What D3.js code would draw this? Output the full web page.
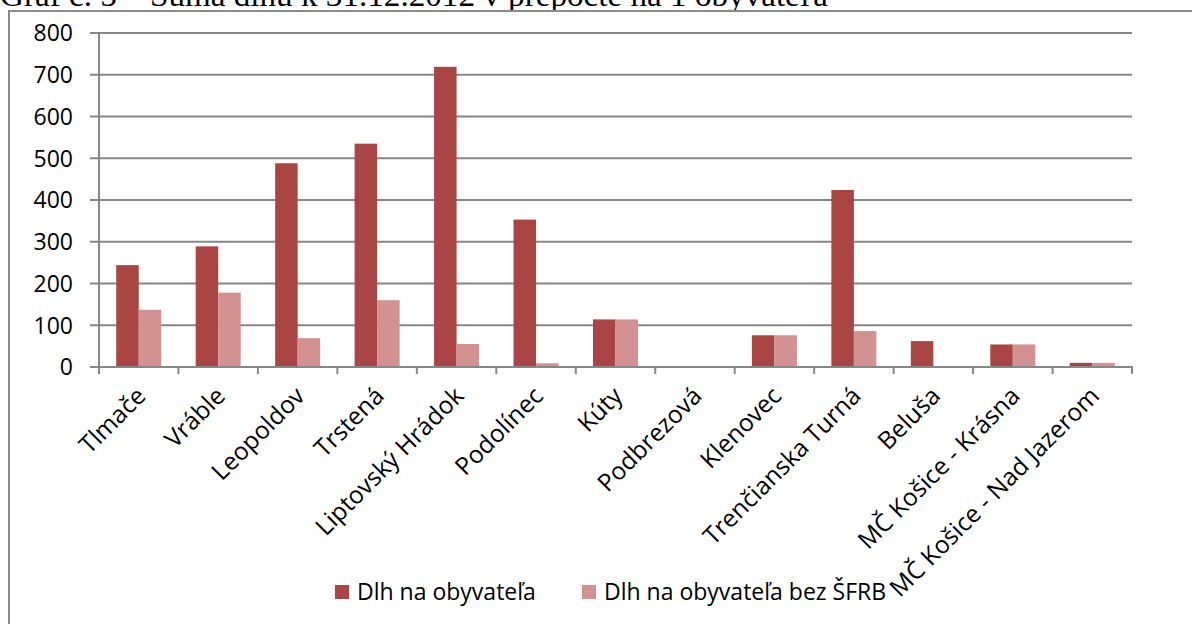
<!DOCTYPE html>
<html>
<head>
<meta charset="utf-8">
<script src="https://cdn.jsdelivr.net/npm/d3@7"></script>
<style>
  body { margin: 0; background: #fff; }
  svg { display: block; }
  .tick-label { font-family: "Open Sans", Lato, sans-serif; font-size: 23px; fill: #000; }
  .xlab { font-size: 24.5px; }
  .title { font-family: "Liberation Serif", "Times New Roman", serif; font-size: 31px; fill: #000; }
</style>
</head>
<body>
<script>
var categories = ["Tlmače", "Vráble", "Leopoldov", "Trstená", "Liptovský Hrádok", "Podolínec",
  "Kúty", "Podbrezová", "Klenovec", "Trenčianska Turná", "Beluša", "MČ Košice - Krásna",
  "MČ Košice - Nad Jazerom"];
var seriesNames = ["Dlh na obyvateľa", "Dlh na obyvateľa bez ŠFRB"];
var dlh = [244, 289, 488, 535, 719, 353, 114, 0, 76, 424, 62, 54, 10];
var dlhBezSFRB = [137, 178, 69, 160, 55, 9, 114, 0, 76, 86, 0, 54, 10];
var yTicks = [0, 100, 200, 300, 400, 500, 600, 700, 800];
var colors = ["#a94644", "#d39291"];

var width = 1192, height = 624;
var margin = {left: 99, right: 60, top: 33, bottom: 257};
var plotW = width - margin.left - margin.right,
    plotH = height - margin.top - margin.bottom;

var svg = d3.select("body").append("svg")
    .attr("width", width)
    .attr("height", height);

// title, mostly cut off by the top edge
svg.append("text")
    .attr("class", "title")
    .attr("x", 0)
    .attr("y", 6)
    .attr("textLength", 828)
    .attr("lengthAdjust", "spacingAndGlyphs")
    .text("Graf č. 5 – Suma dlhu k 31.12.2012 v prepočte na 1 obyvateľa");

// chart frame
svg.append("rect")
    .attr("x", 9)
    .attr("y", 11)
    .attr("width", 1300)
    .attr("height", 800)
    .attr("fill", "#fff")
    .attr("stroke", "#8a8a8a")
    .attr("stroke-width", 2);

var x = d3.scaleBand()
    .domain(categories)
    .range([0, plotW]);

var barW = x.bandwidth() / 3.53;

var y = d3.scaleLinear()
    .domain([0, 800])
    .range([plotH, 0]);

var g = svg.append("g")
    .attr("transform", "translate(" + margin.left + "," + margin.top + ")");

// gridlines + y ticks
g.selectAll(".grid")
    .data(yTicks)
  .enter().append("line")
    .attr("class", "grid")
    .attr("x1", -9)
    .attr("x2", plotW)
    .attr("y1", function(d) { return y(d); })
    .attr("y2", function(d) { return y(d); })
    .attr("stroke", "#878787")
    .attr("stroke-width", 2);

g.selectAll(".ylab")
    .data(yTicks)
  .enter().append("text")
    .attr("class", "tick-label")
    .attr("x", -26)
    .attr("y", function(d) { return y(d); })
    .attr("dy", "0.36em")
    .style("text-anchor", "end")
    .text(function(d) { return d; });

// bars
var rows = categories.map(function(c, i) { return {cat: c, vals: [dlh[i], dlhBezSFRB[i]]}; });

var groups = g.selectAll(".cat")
    .data(rows)
  .enter().append("g")
    .attr("class", "cat")
    .attr("transform", function(d) { return "translate(" + (x(d.cat) + x.bandwidth() / 2 - barW) + ",0)"; });

groups.selectAll("rect")
    .data(function(d) { return d.vals; })
  .enter().append("rect")
    .attr("x", function(d, i) { return i * barW; })
    .attr("y", function(d) { return y(d); })
    .attr("width", barW)
    .attr("height", function(d) { return plotH - y(d); })
    .attr("fill", function(d, i) { return colors[i]; });

// axes lines
g.append("line")
    .attr("x1", 0).attr("x2", 0)
    .attr("y1", 0).attr("y2", plotH + 6)
    .attr("stroke", "#878787")
    .attr("stroke-width", 2);

g.append("line")
    .attr("x1", 0).attr("x2", plotW + 1)
    .attr("y1", plotH).attr("y2", plotH)
    .attr("stroke", "#878787")
    .attr("stroke-width", 2);

var edges = categories.map(function(c) { return x(c); }).concat([plotW]);
g.selectAll(".xtick")
    .data(edges)
  .enter().append("line")
    .attr("x1", function(d) { return d; })
    .attr("x2", function(d) { return d; })
    .attr("y1", plotH)
    .attr("y2", plotH + 7)
    .attr("stroke", "#878787")
    .attr("stroke-width", 2);

g.selectAll(".xlab")
    .data(categories)
  .enter().append("text")
    .attr("class", "tick-label xlab")
    .attr("transform", function(d) {
      return "translate(" + (x(d) + x.bandwidth() / 2 - 4) + "," + (plotH + 18) + ") rotate(-45)";
    })
    .attr("dy", "0.72em")
    .style("text-anchor", "end")
    .text(function(d) { return d; });

// legend
var legendX = [335, 582];
var legend = svg.selectAll(".legend")
    .data(seriesNames)
  .enter().append("g")
    .attr("class", "legend")
    .attr("transform", function(d, i) { return "translate(" + legendX[i] + ",585)"; });

legend.append("rect")
    .attr("width", 14)
    .attr("height", 14)
    .attr("fill", function(d, i) { return colors[i]; });

legend.append("text")
    .attr("class", "tick-label")
    .attr("x", 22)
    .attr("y", 7)
    .attr("dy", "0.36em")
    .text(function(d) { return d; });
</script>
</body>
</html>
